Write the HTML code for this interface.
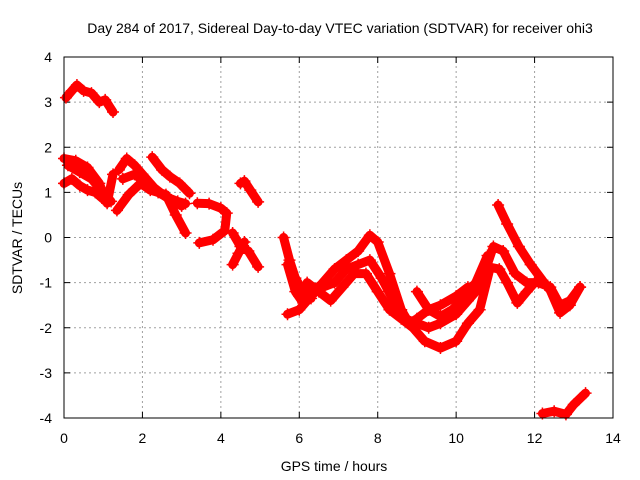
<!DOCTYPE html>
<html><head><meta charset="utf-8"><style>
body{margin:0;background:#fff}
svg{display:block;font-family:"Liberation Sans",sans-serif}
</style></head><body>
<svg id="chart" width="640" height="480" viewBox="0 0 640 480">
<rect width="640" height="480" fill="#fff"/>
<text x="340" y="33" font-size="14" text-anchor="middle">Day 284 of 2017, Sidereal Day-to-day VTEC variation (SDTVAR) for receiver ohi3</text>
<text x="334" y="471" font-size="14" text-anchor="middle">GPS time / hours</text>
<text transform="translate(22,238) rotate(-90)" font-size="14" text-anchor="middle">SDTVAR / TECUs</text>
<g id="grid"></g><g id="marks"></g>
<rect x="64" y="57" width="549" height="361" fill="none" stroke="#000" stroke-width="1"/>
</svg>
<script>
const xTicks=[0,2,4,6,8,10,12,14];
const yTicks=[-4,-3,-2,-1,0,1,2,3,4];
const traceTop=[[0.05,3.1],[0.2,3.25],[0.33,3.38],[0.5,3.25],[0.7,3.2],[0.9,3.0],[1.05,3.05],[1.25,2.78]];
const traceA=[[0,1.75],[0.3,1.7],[0.6,1.55],[0.9,1.2],[1.1,0.76],[1.25,1.4]];
const traceA2=[[0.1,1.6],[0.4,1.45],[0.7,1.3],[1.0,1.0],[1.2,0.8]];
const traceB=[[0,1.2],[0.2,1.3],[0.4,1.15],[0.6,1.05],[0.8,1.0],[1.0,0.85]];
const traceC=[[1.4,1.5],[1.6,1.75],[1.8,1.6],[2.0,1.4],[2.3,1.1],[2.6,0.9],[2.9,0.8],[3.1,0.75]];
const traceC2=[[1.5,1.3],[1.8,1.4],[2.1,1.2],[2.4,1.0],[2.7,0.85],[3.0,0.7]];
const traceD=[[1.35,0.6],[1.65,0.95],[1.95,1.2],[2.2,1.05],[2.6,0.95],[2.85,0.5],[3.1,0.1]];
const traceE=[[2.25,1.78],[2.5,1.5],[2.7,1.35],[2.95,1.2],[3.2,0.98]];
const traceF=[[3.4,0.76],[3.7,0.75],[4.0,0.65],[4.15,0.54],[4.1,0.15],[3.8,-0.05],[3.45,-0.12]];
const traceG=[[4.5,1.2],[4.6,1.25],[4.75,1.05],[4.95,0.79]];
const traceH=[[4.3,0.1],[4.5,-0.2],[4.7,-0.3],[4.95,-0.65]];
const traceH2=[[4.3,-0.6],[4.45,-0.35],[4.6,-0.1]];
const traceI=[[5.6,0.0],[5.75,-0.5],[5.9,-0.9],[6.1,-1.2],[6.3,-1.35]];
const traceI2=[[5.7,-0.6],[5.9,-1.2],[6.1,-1.45],[6.3,-1.2]];
const wave1=[[5.7,-1.7],[6.0,-1.6],[6.3,-1.3],[6.6,-1.0],[6.9,-0.7],[7.2,-0.5],[7.5,-0.3],[7.8,0.05],[8.0,-0.1],[8.3,-0.8],[8.6,-1.6],[8.8,-1.9],[9.0,-1.8],[9.3,-1.6],[9.6,-1.5],[10.0,-1.3],[10.3,-1.1]];
const wave2=[[6.0,-1.3],[6.3,-1.1],[6.6,-1.1],[6.9,-1.0],[7.2,-0.7],[7.5,-0.6],[7.8,-0.5],[8.1,-0.9],[8.4,-1.4],[8.7,-1.8],[9.0,-1.9],[9.3,-2.0],[9.6,-1.9],[10.0,-1.7],[10.3,-1.4],[10.6,-1.1],[10.95,-0.2],[11.2,-0.3],[11.5,-0.8],[11.8,-1.0],[12.1,-1.0],[12.4,-1.1],[12.65,-1.5],[12.9,-1.4],[13.16,-1.1]];
const wave3=[[6.2,-1.0],[6.5,-1.2],[6.8,-1.4],[7.1,-1.1],[7.4,-0.8],[7.7,-0.8],[8.0,-1.2],[8.3,-1.6],[8.6,-1.8],[8.9,-2.0],[9.2,-2.3],[9.6,-2.45],[10.0,-2.3],[10.3,-1.9],[10.6,-1.6],[10.87,-0.66],[11.1,-0.7],[11.3,-1.0],[11.56,-1.45],[11.8,-1.2],[12.0,-1.0]];
const wave4=[[9.0,-1.2],[9.3,-1.6],[9.6,-1.75],[9.9,-1.6],[10.2,-1.35],[10.5,-1.0],[10.8,-0.4]];
const traceJ=[[11.07,0.72],[11.3,0.3],[11.6,-0.2],[11.9,-0.6],[12.2,-0.95],[12.4,-1.17],[12.65,-1.67],[12.9,-1.5],[13.16,-1.1]];
const traceBottom=[[12.2,-3.9],[12.5,-3.85],[12.8,-3.92],[13.0,-3.7],[13.3,-3.45]];
const traces=[traceTop,traceA,traceA2,traceB,traceC,traceC2,traceD,traceE,traceF,traceG,traceH,traceH2,traceI,traceI2,wave1,wave2,wave3,wave4,traceJ,traceBottom];
const X0=64,X1=613,Y0=418,Y1=57;
const sx=v=>X0+(v-0)/(14-0)*(X1-X0);
const sy=v=>Y0-(v+4)/8*(Y0-Y1);
const NS="http://www.w3.org/2000/svg";
const grid=document.getElementById('grid'),marks=document.getElementById('marks');
function mk(tag,attrs,parent){const e=document.createElementNS(NS,tag);for(const k in attrs)e.setAttribute(k,attrs[k]);parent.appendChild(e);return e;}
xTicks.forEach(t=>{
  const x=sx(t);
  if(t>0&&t<14){const l=mk('line',{x1:x,y1:Y0,x2:x,y2:Y1,stroke:'#a0a0a0','stroke-dasharray':'2,3'},grid);
  
  }
  mk('line',{x1:x,y1:Y0,x2:x,y2:Y0-6,stroke:'#000'},grid);
  mk('line',{x1:x,y1:Y1,x2:x,y2:Y1+6,stroke:'#000'},grid);
  const tx=mk('text',{x:x,y:443,'font-size':14,'text-anchor':'middle'},grid);tx.textContent=t;
  
  
});
yTicks.forEach(t=>{
  const y=sy(t);
  if(t>-4&&t<4){const l=mk('line',{x1:X0,y1:y,x2:X1,y2:y,stroke:'#a0a0a0','stroke-dasharray':'2,3'},grid);
  
  }
  mk('line',{x1:X0,y1:y,x2:X0+6,y2:y,stroke:'#000'},grid);
  mk('line',{x1:X1,y1:y,x2:X1-6,y2:y,stroke:'#000'},grid);
  const tx=mk('text',{x:52,y:y+5,'font-size':14,'text-anchor':'end'},grid);tx.textContent=t;
  
  
});
traces.forEach((tr,i)=>{
  const g=mk('g',{},marks);
  
  
  mk('polyline',{points:tr.map(p=>sx(p[0])+','+sy(p[1])).join(' '),fill:'none',stroke:'#f00','stroke-width':9,'stroke-linejoin':'round','stroke-linecap':'round'},g);
  tr.forEach(p=>{
    const x=sx(p[0]),y=sy(p[1]);
    const m=mk('path',{d:`M${x-6},${y}H${x+6}M${x},${y-6}V${y+6}`,stroke:'#f00','stroke-width':1.5},g);
    
    
  });
});
</script>
</body></html>
